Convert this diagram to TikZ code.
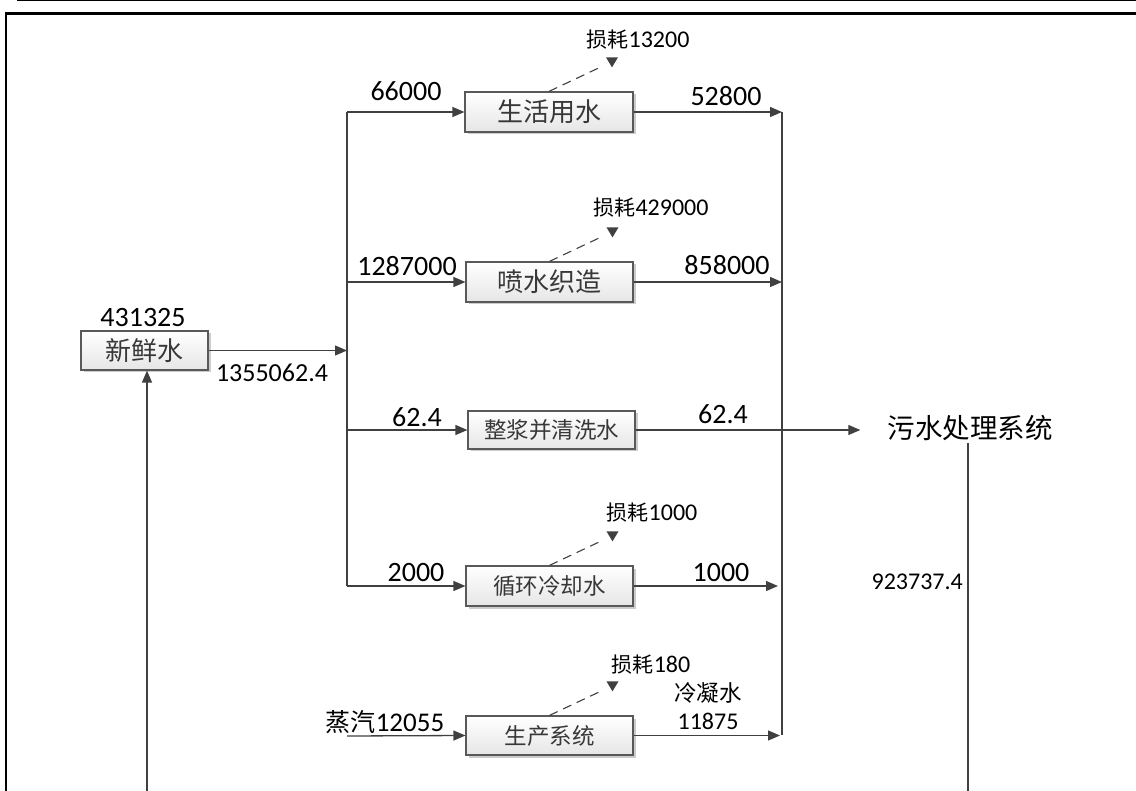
\documentclass[tikz,border=0pt]{standalone}
\usepackage{fontspec}
\setmainfont{Carlito}
\newfontfamily\cjk{Noto Sans CJK SC}
\usetikzlibrary{arrows.meta,shadows}
\definecolor{ln}{HTML}{404040}
\definecolor{boxc}{HTML}{595959}
\definecolor{boxbot}{HTML}{E6E6E6}
\definecolor{txt}{HTML}{383838}
\newcommand\losslabel[1]{{\cjk\fontsize{21}{21}\selectfont 损耗}{\fontsize{24}{24}\selectfont #1}}
\begin{document}
\begin{tikzpicture}[x=1pt,y=-1pt,
  box/.style={draw=boxc, line width=1.2pt, top color=white, bottom color=boxbot,
    minimum width=168pt, minimum height=40pt, inner sep=0pt, text=txt,
    drop shadow={shadow xshift=2.5pt, shadow yshift=-2.5pt, opacity=0.2, fill=black}},
  bigcjk/.style={font=\cjk\fontsize{26}{26}\selectfont},
  smallcjk/.style={font=\cjk\fontsize{22.5}{22.5}\selectfont},
  num/.style={font=\fontsize{28}{28}\selectfont, inner sep=0pt, text=black},
  snum/.style={font=\fontsize{24}{24}\selectfont, inner sep=0pt, text=black},
  conn/.style={draw=ln, line width=1.3pt},
  arr/.style={conn, -{Triangle[length=12pt,width=10pt]}},
  lossline/.style={draw=ln, line width=1.1pt, dash pattern=on 9pt off 6pt},
  losslbl/.style={inner sep=0pt, text=black}
]
\useasboundingbox (0,0) rectangle (1136,791);
% frame
\draw[line width=1.2pt] (17,0.6) -- (1136,0.6);
\draw[line width=2.6pt, line join=miter] (6,791) -- (6,13.5) -- (1136,13.5);

% boxes
\node[box, minimum width=127pt, minimum height=39pt, bigcjk] (fresh) at (144.5,350.5) {新鲜水};
\node[box, bigcjk] (b1) at (549,112) {生活用水};
\node[box, bigcjk, minimum width=167pt] (b2) at (549.5,282) {喷水织造};
\node[box, smallcjk, minimum width=167pt, minimum height=38pt] (b3) at (551.5,430) {整浆并清洗水};
\node[box, smallcjk, minimum width=167pt] (b4) at (549.5,586) {循环冷却水};
\node[box, smallcjk, minimum width=167pt, minimum height=39pt] (b5) at (549.5,735.5) {生产系统};
\node[font=\cjk\fontsize{27.5}{27.5}\selectfont, text=black, inner xsep=27pt, inner ysep=2pt] (sew) at (970,428) {污水处理系统};

% left bus
\coordinate (Ltop) at (347,112);
\coordinate (Lbot) at (347,586);
\draw[conn] (Ltop) -- (Lbot);
\draw[arr] (Ltop) -- (b1.west);
\draw[arr] (Ltop |- b2.west) -- (b2.west);
\draw[arr] (Ltop |- b3.west) -- (b3.west);
\draw[arr] (Lbot) -- (b4.west);
\draw[arr] (fresh.east) -- (fresh.east -| Ltop);

% right bus
\coordinate (Rtop) at (782,112);
\coordinate (Rbot) at (782,735);
\draw[conn] (Rtop) -- (Rbot);
\draw[arr] (b1.east) -- (b1.east -| Rtop);
\draw[arr] (b2.east) -- (b2.east -| Rtop);
\draw[arr] (b4.east) -- ([xshift=-4pt]b4.east -| Rtop);
\draw[arr] (b5.east) -- ([xshift=-2pt]b5.east -| Rtop);
\draw[arr] (b3.east) -- (sew.west |- b3.east);

% steam input
\coordinate (steam) at (347,736);
\draw[arr] (steam) -- (b5.west);

% fresh water input from below
\coordinate (fin) at (147,791);
\draw[arr] (fin) -- (fin |- fresh.south);

% sewage output down
\coordinate (sout) at (968,791);
\draw[conn] (sew.south -| sout) -- (sout);

% losses
\foreach \b in {b1,b2,b4,b5}{
  \draw[lossline] (\b.north) -- ++(53,-25);
  \fill[ln] (\b.north) ++(57,-34) -- ++(12,0) -- ++(-6,10) -- cycle;
}
\node[losslbl] (l1) at (638,40) {\losslabel{13200}};
\node[losslbl] (l2) at (651,208) {\losslabel{429000}};
\node[losslbl] (l4) at (652,513) {\losslabel{1000}};
\node[losslbl] (l5) at (651,665) {\losslabel{180}};

% flow labels
\node[num] (n431) at (143,318) {431325};
\node[num, font=\fontsize{26}{26}\selectfont] (n1355) at (272,373) {1355062.4};
\node[num] (n66) at (406,91) {66000};
\node[num] (n528) at (726,96) {52800};
\node[num] (n1287) at (407,266) {1287000};
\node[num] (n858) at (727,265) {858000};
\node[num] (n62a) at (417,417) {62.4};
\node[num] (n62b) at (723,414) {62.4};
\node[num] (n2000) at (416,573) {2000};
\node[num] (n1000) at (721,573) {1000};
\node[inner sep=0pt, text=black] (nsteam) at (385,722) {{\cjk\fontsize{25}{25}\selectfont 蒸汽}{\fontsize{27}{27}\selectfont 12055}};
\node[smallcjk, inner sep=0pt, text=black] (cond) at (708,693) {冷凝水};
\node[snum] (n11875) at (708,721) {11875};
\node[snum, anchor=east] (n923) at (963,582) {923737.4};
\end{tikzpicture}
\end{document}
